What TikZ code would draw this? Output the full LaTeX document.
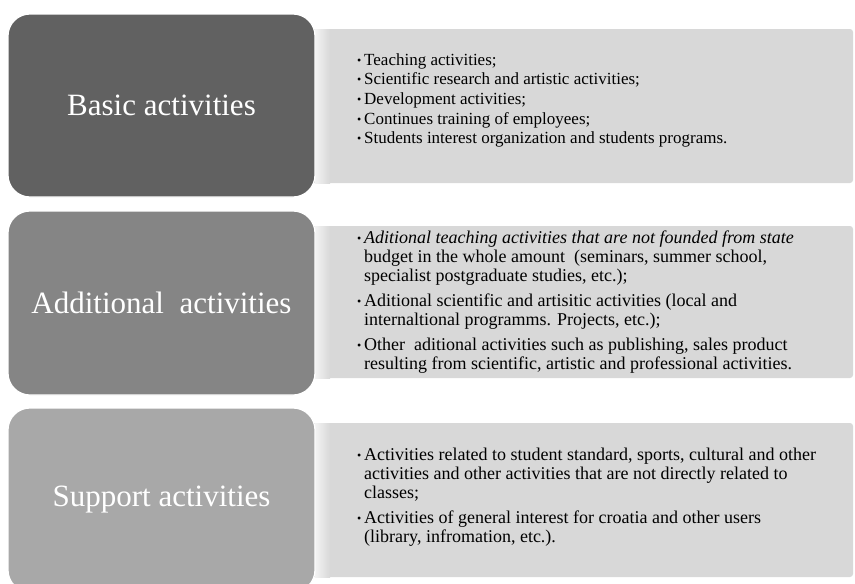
\documentclass[tikz,border=0pt]{standalone}
\usepackage{fontspec}
\setmainfont{Liberation Serif}
\definecolor{boxa}{HTML}{616161}
\definecolor{boxb}{HTML}{858585}
\definecolor{boxc}{HTML}{A8A8A8}
\definecolor{panelgray}{HTML}{D8D8D8}
\newcommand{\bul}{\makebox[7pt][l]{\raisebox{1pt}{\fontsize{12}{12}\selectfont\textbullet}}}
\newcommand{\ind}{\makebox[7pt]{}}
\begin{document}
\begin{tikzpicture}[x=1pt,y=-1pt,
  catbox/.style={rounded corners=22pt, draw=white, line width=1.2pt},
  panelbox/.style={fill=panelgray, rounded corners=3pt},
  cattext/.style={text=white, inner sep=0pt, font=\fontsize{31}{36}\selectfont},
  itemtext/.style={anchor=north west, inner sep=0pt, align=left, font=\fontsize{17}{19.7}\selectfont},
  itemtextbig/.style={itemtext, font=\fontsize{18}{19}\selectfont}]
\useasboundingbox (0,0) rectangle (855,584);
\clip (0,0) rectangle (855,584);
% panels
\path[panelbox] (300,29) rectangle (853,183);
\path[panelbox] (300,226) rectangle (853,378);
\path[panelbox] (300,423) rectangle (853,577);
% soft light band at the left edge of each panel
\shade[left color=white!70!panelgray, right color=panelgray] (315,29) rectangle (330,183);
\shade[left color=white!70!panelgray, right color=panelgray] (315,226) rectangle (330,378);
\shade[left color=white!70!panelgray, right color=panelgray] (315,423) rectangle (330,577);
% category boxes
\path[catbox, fill=boxa] (8,14) rectangle (315,197);
\path[catbox, fill=boxb] (8,211) rectangle (315,395);
\path[catbox, fill=boxc] (8,408) rectangle (315,592);
% titles
\node[cattext] (basic) at (161.5,105.5) {Basic activities};
\node[cattext] (additional) at (161.5,303) {Additional\ \ activities};
\node[cattext] (support) at (161.5,500) {Support activities};
% item lists
\node[itemtext] (basiclist) at (357,51.2) {%
\strut\bul Teaching activities;\\
\strut\bul Scientific research and artistic activities;\\
\strut\bul Development activities;\\
\strut\bul Continues training of employees;\\
\strut\bul Students interest organization and students programs.};
\node[itemtextbig] (addlist) at (357,229.7) {%
\strut\bul\textit{Aditional teaching activities that are not founded from state}\\
\ind budget in the whole amount\ \ (seminars, summer school,\\
\ind specialist postgraduate studies, etc.);\\[6pt]
\strut\bul Aditional scientific and artisitic activities (local and\\
\ind internaltional programms. Projects, etc.);\\[6pt]
\strut\bul Other\ \ aditional activities such as publishing, sales product\\
\ind resulting from scientific, artistic and professional activities.};
\node[itemtextbig] (suplist) at (357,446.7) {%
\strut\bul Activities related to student standard, sports, cultural and other\\
\ind activities and other activities that are not directly related to\\
\ind classes;\\[6pt]
\strut\bul Activities of general interest for croatia and other users\\
\ind (library, infromation, etc.).};
\end{tikzpicture}
\end{document}
